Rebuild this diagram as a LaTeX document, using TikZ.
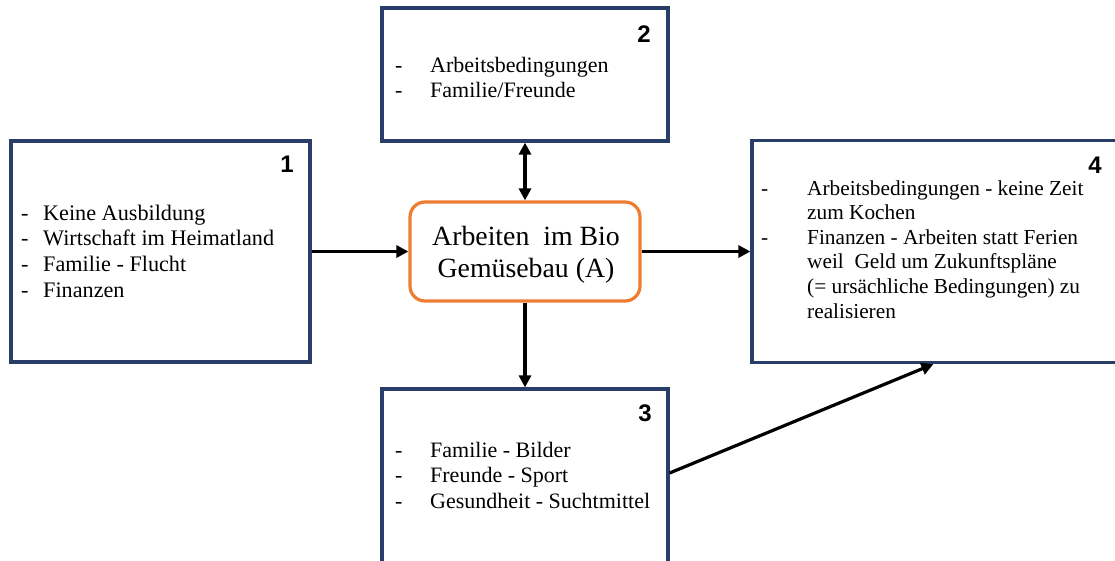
\documentclass[tikz,border=0pt]{standalone}
\usepackage{fontspec}
\setmainfont{Liberation Serif}
\newfontfamily\numfont{Liberation Sans}
\usetikzlibrary{arrows.meta}
\definecolor{boxblue}{RGB}{40,62,105}
\definecolor{corange}{RGB}{237,125,49}
\begin{document}
\begin{tikzpicture}[x=1pt,y=-1pt,
  box/.style={draw=boxblue,line width=3.2pt,inner sep=0pt,fill=white},
  cbox/.style={draw=corange,line width=3.2pt,rounded corners=15pt,inner sep=0pt,fill=white},
  txt/.style={inner sep=0pt,font=\fontsize{22}{25.5}\selectfont},
  ctxt/.style={inner sep=0pt,font=\fontsize{27.8}{32}\selectfont},
  num/.style={inner sep=0pt,font=\numfont\bfseries\fontsize{24}{28}\selectfont},
  arr/.style={line width=3.2pt,-{Triangle[length=12pt,width=12pt]}},
  darr/.style={line width=3.2pt,{Triangle[length=12pt,width=12pt]}-{Triangle[length=12pt,width=12pt]}}]
\useasboundingbox (0,0) rectangle (1115,560);
\clip (0,0) rectangle (1115,560);
\fill[white] (0,0) rectangle (1115,560);

% boxes
\node[box,minimum width=299pt,minimum height=221pt] (b1) at (160.5,251.5) {};
\node[box,minimum width=286pt,minimum height=133pt] (b2) at (525,74.5) {};
\node[box,minimum width=373pt,minimum height=222pt] (b4) at (938.5,251.5) {};
\node[box,minimum width=286pt,minimum height=181pt] (b3) at (525,479.5) {};
\node[cbox,minimum width=230pt,minimum height=99pt] (c) at (525,251.5) {};

% numbers
\node[num,anchor=base] (n1) at (287,172) {1};
\node[num,anchor=base] (n2) at (644,42) {2};
\node[num,anchor=base] (n3) at (645,421) {3};
\node[num,anchor=base] (n4) at (1095,173) {4};

% texts
\node[txt,font=\fontsize{22.2}{25.7}\selectfont,anchor=base west] (t1) at (21,220) {\begin{tabular}[t]{@{}p{22pt}@{}l@{}}
-& Keine Ausbildung\\
-& Wirtschaft im Heimatland\\
-& Familie - Flucht\\
-& Finanzen\end{tabular}};
\node[txt,anchor=base west] (t2) at (395,72) {\begin{tabular}[t]{@{}p{35pt}@{}l@{}}
-& Arbeitsbedingungen\\
-& Familie/Freunde\end{tabular}};
\node[txt,anchor=base west] (t3) at (395,457) {\begin{tabular}[t]{@{}p{35pt}@{}l@{}}
-& Familie - Bilder\\
-& Freunde - Sport\\
-& Gesundheit - Suchtmittel\end{tabular}};
\node[txt,font=\fontsize{21.3}{24.6}\selectfont,anchor=base west] (t4) at (761,195) {\begin{tabular}[t]{@{}p{46pt}@{}l@{}}
-& Arbeitsbedingungen - keine Zeit\\
 & zum Kochen\\
-& Finanzen - Arbeiten statt Ferien\\
 & weil~ Geld um Zukunftspläne\\
 & (= ursächliche Bedingungen) zu\\
 & realisieren\end{tabular}};
\node[ctxt,anchor=base] (ct) at (526,245) {\begin{tabular}[t]{@{}c@{}}
Arbeiten~ im Bio\\
Gemüsebau (A)\end{tabular}};

% connectors
\draw[arr] (b1.east) -- (c.west);
\draw[arr] (c.east) -- (b4.west);
\draw[darr] (c.north) -- (b2.south);
\draw[arr] (c.south) -- (b3.north);
\draw[arr] ([yshift=6.5pt]b3.east) -- ([xshift=183pt]b4.south west);
\end{tikzpicture}
\end{document}
